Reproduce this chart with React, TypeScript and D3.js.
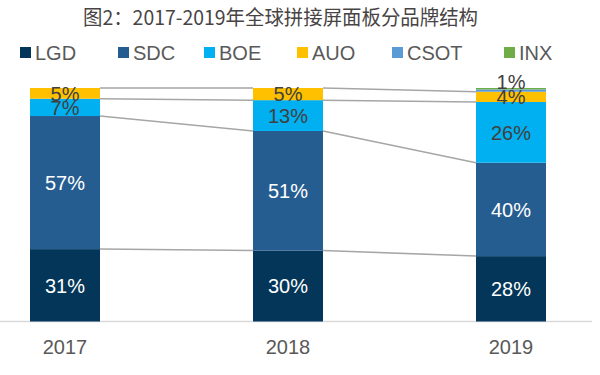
import React from "react";
import * as d3 from "d3";

const years = ["2017", "2018", "2019"];
const brands = ["LGD", "SDC", "BOE", "AUO", "CSOT", "INX"];
const LGD = [31.0, 30.4, 28.0];
const SDC = [57.0, 51.2, 40.0];
const BOE = [7.4, 13.2, 26.0];
const AUO = [4.6, 5.2, 4.4];
const CSOT = [0, 0, 1.0];
const INX = [0, 0, 0.6];
const title = "图2：2017-2019年全球拼接屏面板分品牌结构";

const colors = ["#033659", "#265d91", "#00b0f0", "#ffc000", "#5b9bd5", "#70ad47"];
const labelColors = ["#ffffff", "#ffffff", "#404040", "#404040", "#404040", "#404040"];
const legendX = [20, 118, 204, 297, 392, 504];
const FONT = "'Liberation Sans', Arial, sans-serif";

export default function App() {
  const series = [LGD, SDC, BOE, AUO, CSOT, INX];
  const rows = years.map((yr, i) => {
    const r: any = { year: yr };
    brands.forEach((b, j) => (r[b] = series[j][i]));
    return r;
  });
  const stacked = d3.stack().keys(brands)(rows);
  const x = d3.scalePoint().domain(years).range([65, 511]);
  const y = d3.scaleLinear().domain([0, 100]).range([321.5, 88]);
  const bw = 70;
  const fmt = (v: number) => d3.format(".0f")(v) + "%";

  return (
    <svg width={600} height={375} style={{ position: "absolute", left: 0, top: 0, background: "#fff" }}>
      <text
        x={83}
        y={25}
        textLength={395}
        lengthAdjust="spacingAndGlyphs"
        fontFamily="'Noto Sans CJK SC', sans-serif"
        fontSize={20}
        fill="#484444"
      >
        {title}
      </text>
      {brands.map((b, i) => (
        <g key={b}>
          <rect x={legendX[i]} y={47} width={11} height={11} fill={colors[i]} />
          <text x={legendX[i] + 15} y={60} fontFamily={FONT} fontSize={20} fill="#595959">
            {b}
          </text>
        </g>
      ))}
      <line x1={0} x2={592} y1={321.5} y2={321.5} stroke="#d9d9d9" strokeWidth={1.5} />
      {stacked.map((s, si) => (
        <g key={s.key}>
          {s.map((d, i) =>
            d[1] - d[0] > 0 ? (
              <rect
                key={i}
                x={(x(years[i]) as number) - bw / 2}
                y={y(d[1])}
                width={bw}
                height={y(d[0]) - y(d[1])}
                fill={colors[si]}
              />
            ) : null
          )}
        </g>
      ))}
      {stacked.slice(0, 4).map((s, si) => (
        <g key={"l" + s.key}>
          {s.slice(0, -1).map((d, i) => (
            <line
              key={i}
              x1={(x(years[i]) as number) + bw / 2}
              y1={y(d[1])}
              x2={(x(years[i + 1]) as number) - bw / 2}
              y2={y(s[i + 1][1])}
              stroke="#a6a6a6"
              strokeWidth={1.5}
            />
          ))}
        </g>
      ))}
      {stacked.map((s, si) => (
        <g key={"t" + s.key}>
          {s.map((d, i) => {
            const v = d[1] - d[0];
            if (v < 1) return null;
            const off = s.key === "CSOT" ? -8.5 : 0;
            return (
              <text
                key={i}
                x={x(years[i]) as number}
                y={(y(d[0]) + y(d[1])) / 2 + off}
                dy="0.36em"
                textAnchor="middle"
                fontFamily={FONT}
                fontSize={20}
                fill={labelColors[si]}
              >
                {fmt(v)}
              </text>
            );
          })}
        </g>
      ))}
      {years.map((yr) => (
        <text key={yr} x={x(yr) as number} y={354} textAnchor="middle" fontFamily={FONT} fontSize={20} fill="#595959">
          {yr}
        </text>
      ))}
    </svg>
  );
}
